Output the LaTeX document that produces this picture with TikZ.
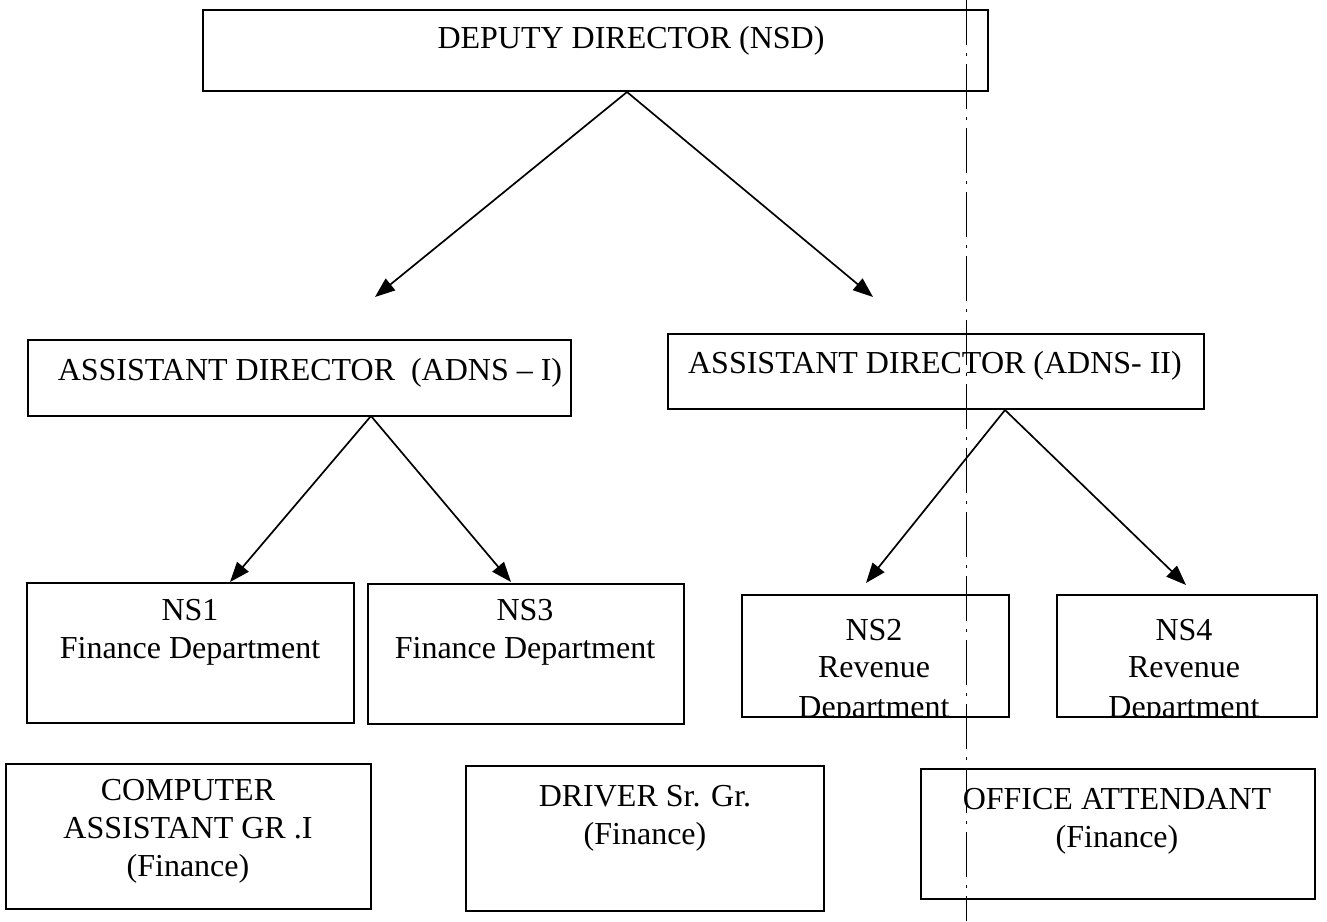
\documentclass[tikz,border=0pt]{standalone}
\usepackage{fontspec}
\setmainfont{Liberation Serif}
\usetikzlibrary{arrows.meta}
\begin{document}
\begin{tikzpicture}[x=1pt,y=-1pt,
  box/.style={draw, line width=1.8pt, rectangle, inner sep=0pt, anchor=north west},
  lbl/.style={font=\fontsize{32}{38}\selectfont, align=center, inner sep=0pt},
  arr/.style={-{Triangle[length=20pt,width=15pt]}, line width=1.7pt},
  fold/.style={line width=0.7pt, dash pattern=on 45pt off 8pt on 3pt off 8pt}]
\useasboundingbox[fill=white] (0,0) rectangle (1327,921);

% boxes
\node[box, minimum width=785pt, minimum height=81pt] (dep) at (202,9) {};
\node[box, minimum width=543pt, minimum height=76pt] (ad1) at (27,339) {};
\node[box, minimum width=536pt, minimum height=75pt] (ad2) at (667,333) {};
\node[box, minimum width=327pt, minimum height=140pt] (ns1) at (26,582) {};
\node[box, minimum width=316pt, minimum height=140pt] (ns3) at (367,583) {};
\node[box, minimum width=267pt, minimum height=122pt] (ns2) at (741,594) {};
\node[box, minimum width=260pt, minimum height=122pt] (ns4) at (1056,594) {};
\node[box, minimum width=365pt, minimum height=145pt] (cmp) at (5,763) {};
\node[box, minimum width=358pt, minimum height=145pt] (drv) at (465,765) {};
\node[box, minimum width=394pt, minimum height=130pt] (off) at (920,768) {};

% texts
\node[lbl] (depT) at (631,41) {DEPUTY DIRECTOR (NSD)};
\node[lbl] (ad1T) at (310,373) {ASSISTANT DIRECTOR~ (ADNS -- I)};
\node[lbl] (ad2T) at (935,366) {ASSISTANT DIRECTOR (ADNS- II)};
\node[lbl] (ns1T) at (190,632) {NS1\\Finance Department};
\node[lbl] (ns3T) at (525,632) {NS3\\Finance Department};
\node[lbl] (ns2a) at (874,630) {NS2};
\node[lbl] (ns2b) at (874,667) {Revenue};
\node[lbl] (ns4a) at (1184,630) {NS4};
\node[lbl] (ns4b) at (1184,667) {Revenue};
\begin{scope}
  \clip (741,594) rectangle (1008,715);
  \node[lbl, anchor=base] (ns2c) at (874,717) {Department};
\end{scope}
\begin{scope}
  \clip (1056,594) rectangle (1316,715);
  \node[lbl, anchor=base] (ns4c) at (1184,717) {Department};
\end{scope}
\node[lbl] (cmpT) at (188,831) {COMPUTER\\ASSISTANT GR .I\\(Finance)};
\node[lbl] (drvT) at (645,818) {DRIVER Sr. Gr.\\(Finance)};
\node[lbl] (offT) at (1117,821) {OFFICE ATTENDANT\\(Finance)};

% connectors
\coordinate (depS) at (627,92);
\coordinate (t1) at (375,297);
\coordinate (t2) at (873,297);
\coordinate (ad1S) at (371,416);
\coordinate (t3) at (230,582);
\coordinate (t4) at (511,582);
\coordinate (ad2S) at (1005,410);
\coordinate (t5) at (866,583);
\coordinate (t6) at (1186,585);
\draw[arr] (depS) -- (t1);
\draw[arr] (depS) -- (t2);
\draw[arr] (ad1S) -- (t3);
\draw[arr] (ad1S) -- (t4);
\draw[arr] (ad2S) -- (t5);
\draw[arr] (ad2S) -- (t6);

% fold line of the scan
\draw[fold] (966,0) -- (966,921);
\end{tikzpicture}
\end{document}
